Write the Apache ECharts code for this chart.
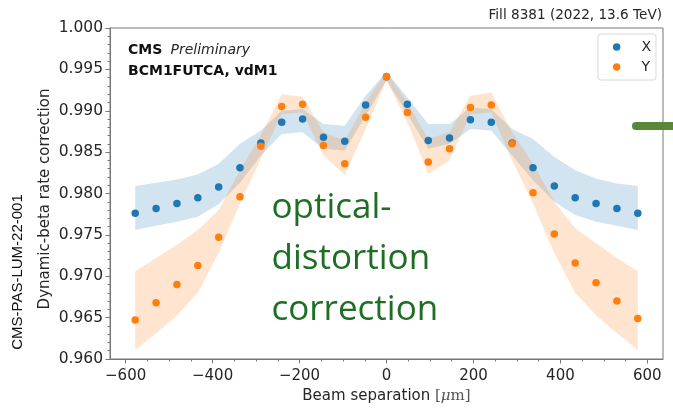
<!DOCTYPE html>
<html>
<head>
<meta charset="utf-8">
<script src="https://cdn.jsdelivr.net/npm/echarts@6/dist/echarts.min.js"></script>
<style>
  html, body { margin: 0; padding: 0; background: #fff; }
  #chart { width: 673px; height: 409px; }
</style>
</head>
<body>
<div id="chart"></div>
<script>
// Beam separation of each scan step [um]
const separation = [-578, -530, -482, -434, -386, -337, -289, -241, -193, -145, -96, -48, 0,
                    48, 96, 145, 193, 241, 289, 337, 386, 434, 482, 530, 578];

// X scan: correction and its uncertainty band
const valueX = [0.9776, 0.9782, 0.9788, 0.9795, 0.9808, 0.9831, 0.9861, 0.9886, 0.9890, 0.9868, 0.9863, 0.9907, 0.9941,
                0.9908, 0.9864, 0.9867, 0.9889, 0.9886, 0.9861, 0.9831, 0.9809, 0.9795, 0.9788, 0.9782, 0.9776];
const lowX   = [0.9756, 0.9761, 0.9766, 0.9772, 0.9787, 0.9813, 0.9846, 0.9872, 0.9874, 0.9854, 0.9852, 0.9894, 0.9937,
                0.9896, 0.9854, 0.9860, 0.9878, 0.9876, 0.9846, 0.9816, 0.9790, 0.9774, 0.9766, 0.9761, 0.9756];
const highX  = [0.9809, 0.9813, 0.9817, 0.9823, 0.9836, 0.9860, 0.9876, 0.9900, 0.9902, 0.9884, 0.9882, 0.9918, 0.9947,
                0.9916, 0.9884, 0.9884, 0.9904, 0.9902, 0.9878, 0.9866, 0.9844, 0.9828, 0.9818, 0.9812, 0.9809];

// Y scan: correction and its uncertainty band
const valueY = [0.9647, 0.9668, 0.9690, 0.9713, 0.9747, 0.9796, 0.9857, 0.9905, 0.9908, 0.9858, 0.9836, 0.9892, 0.9941,
                0.9898, 0.9838, 0.9854, 0.9904, 0.9907, 0.9860, 0.9801, 0.9751, 0.9716, 0.9692, 0.9670, 0.9649];
const lowY   = [0.9611, 0.9631, 0.9653, 0.9680, 0.9728, 0.9788, 0.9842, 0.9896, 0.9898, 0.9846, 0.9822, 0.9878, 0.9937,
                0.9886, 0.9824, 0.9840, 0.9896, 0.9898, 0.9840, 0.9788, 0.9728, 0.9680, 0.9653, 0.9631, 0.9611];
const highY  = [0.9706, 0.9722, 0.9738, 0.9756, 0.9780, 0.9828, 0.9870, 0.9920, 0.9917, 0.9874, 0.9864, 0.9910, 0.9947,
                0.9910, 0.9866, 0.9874, 0.9918, 0.9922, 0.9874, 0.9836, 0.9790, 0.9758, 0.9740, 0.9722, 0.9706];

// Axis ticks
const xTicks = [-600, -400, -200, 0, 200, 400, 600];
const yTicks = [0.960, 0.965, 0.970, 0.975, 0.980, 0.985, 0.990, 0.995, 1.000];
const xMinorTicks = [];
for (let v = -600; v <= 600; v += 50) xMinorTicks.push(v);
const yMinorTicks = [];
for (let k = 960; k <= 1000; k++) yMinorTicks.push(k / 1000);

const BLUE = '#1f77b4';
const ORANGE = '#ff7f0e';
const FRAME = '#777';
const TEXT = '#262626';
const FONT = 'DejaVu Sans';

// Shaded band between lower and upper edges, drawn as one polygon
function bandSeries(low, high, fill) {
  return {
    type: 'custom',
    silent: true,
    clip: true,
    z: 1,
    data: separation.map((s, i) => [s, low[i], high[i]]),
    encode: { x: 0, y: [1, 2] },
    renderItem: function (params, api) {
      if (params.dataIndex !== 0) return null;
      const pts = [];
      for (let i = 0; i < separation.length; i++) pts.push(api.coord([separation[i], high[i]]));
      for (let i = separation.length - 1; i >= 0; i--) pts.push(api.coord([separation[i], low[i]]));
      return { type: 'polygon', shape: { points: pts }, style: { fill: fill, stroke: null } };
    }
  };
}

const chart = echarts.init(document.getElementById('chart'), null, { renderer: 'canvas' });

chart.setOption({
  animation: false,
  backgroundColor: '#fff',
  grid: {
    left: 110, right: 10, top: 28, bottom: 50,
    show: true, borderColor: FRAME, borderWidth: 1,
    outerBoundsMode: 'none'
  },
  xAxis: [{
    type: 'value', min: -636, max: 636,
    axisLine: { show: true, onZero: false, lineStyle: { color: FRAME } },
    axisTick: { show: true, customValues: xTicks, length: 4.5, lineStyle: { color: FRAME } },
    axisLabel: {
      customValues: xTicks, margin: 10,
      fontFamily: FONT, fontSize: 15, color: TEXT,
      formatter: v => String(v).replace('-', '\u2212')
    },
    splitLine: { show: false },
    name: 'Beam separation {rm|[}{mu|\u03bc}{rm|m]}',
    nameLocation: 'middle', nameGap: 23,
    nameTextStyle: {
      fontFamily: FONT, fontSize: 15, color: TEXT,
      rich: {
        rm: { fontFamily: 'DejaVu Serif', fontSize: 15, color: '#555' },
        mu: { fontFamily: 'DejaVu Serif', fontStyle: 'italic', fontSize: 15, color: '#555' }
      }
    }
  }, {
    type: 'value', min: -636, max: 636, position: 'bottom',
    axisLine: { show: false, onZero: false },
    axisTick: { show: true, customValues: xMinorTicks, length: 2.5, lineStyle: { color: FRAME } },
    axisLabel: { show: false },
    splitLine: { show: false }
  }],
  yAxis: [{
    type: 'value', min: 0.96, max: 1.0,
    axisLine: { show: true, onZero: false, lineStyle: { color: FRAME } },
    axisTick: { show: true, customValues: yTicks, length: 4.5, lineStyle: { color: FRAME } },
    axisLabel: {
      customValues: yTicks, margin: 7,
      fontFamily: FONT, fontSize: 15.5, color: TEXT,
      formatter: v => v.toFixed(3)
    },
    splitLine: { show: false }
  }, {
    type: 'value', min: 0.96, max: 1.0, position: 'left',
    axisLine: { show: false, onZero: false },
    axisTick: { show: true, customValues: yMinorTicks, length: 2.5, lineStyle: { color: FRAME } },
    axisLabel: { show: false },
    splitLine: { show: false }
  }],
  legend: {
    data: ['X', 'Y'],
    orient: 'vertical', align: 'left',
    right: 17, top: 34,
    icon: 'circle', itemWidth: 7.5, itemHeight: 7.5, itemGap: 6,
    padding: [6, 5, 6, 15],
    borderColor: '#d8d8d8', borderWidth: 1, borderRadius: 3,
    backgroundColor: 'rgba(255,255,255,0.8)',
    textStyle: { fontFamily: FONT, fontSize: 14, color: TEXT, lineHeight: 14, padding: [0, 0, 0, 16] }
  },
  series: [
    bandSeries(lowX, highX, 'rgba(31,119,180,0.2)'),
    bandSeries(lowY, highY, 'rgba(255,127,14,0.2)'),
    {
      name: 'X', type: 'scatter', z: 3,
      symbol: 'circle', symbolSize: 7.5,
      itemStyle: { color: BLUE, opacity: 1 },
      data: separation.map((s, i) => [s, valueX[i]])
    },
    {
      name: 'Y', type: 'scatter', z: 4,
      symbol: 'circle', symbolSize: 7.5,
      itemStyle: { color: ORANGE, opacity: 1 },
      data: separation.map((s, i) => [s, valueY[i]])
    }
  ],
  graphic: [
    {
      type: 'text', x: 45, y: 199, rotation: Math.PI / 2,
      style: { text: 'Dynamic-beta rate correction', font: '15px "DejaVu Sans"', fill: TEXT,
               textAlign: 'center', textVerticalAlign: 'middle' }
    },
    {
      type: 'text', x: 18.3, y: 272, rotation: Math.PI / 2,
      style: { text: 'CMS-PAS-LUM-22-001', font: '15px "Liberation Sans"', fill: '#111',
               textAlign: 'center', textVerticalAlign: 'middle' }
    },
    {
      type: 'text', x: 662, y: 15.5,
      style: { text: 'Fill 8381 (2022, 13.6 TeV)', font: '13.6px "DejaVu Sans"', fill: TEXT,
               textAlign: 'right', textVerticalAlign: 'middle' }
    },
    {
      type: 'text', x: 128, y: 50,
      style: { text: 'CMS', font: 'bold 14px "DejaVu Sans"', fill: '#111',
               textAlign: 'left', textVerticalAlign: 'middle' }
    },
    {
      type: 'text', x: 170.5, y: 50,
      style: { text: 'Preliminary', font: 'italic 14px "DejaVu Sans"', fill: TEXT,
               textAlign: 'left', textVerticalAlign: 'middle' }
    },
    {
      type: 'text', x: 128, y: 71,
      style: { text: 'BCM1FUTCA, vdM1', font: 'bold 14px "DejaVu Sans"', fill: '#111',
               textAlign: 'left', textVerticalAlign: 'middle' }
    },
    {
      type: 'text', x: 271.5, y: 183, z: 10,
      style: { text: 'optical-\ndistortion\ncorrection', font: '35px "Open Sans"', fill: '#1e6e24',
               lineHeight: 51, textAlign: 'left', textVerticalAlign: 'top' }
    },
    {
      type: 'rect', z: 10,
      shape: { x: 632, y: 122, width: 50, height: 8, r: [4, 0, 0, 4] },
      style: { fill: '#5a8737' }
    }
  ]
});
</script>
</body>
</html>
